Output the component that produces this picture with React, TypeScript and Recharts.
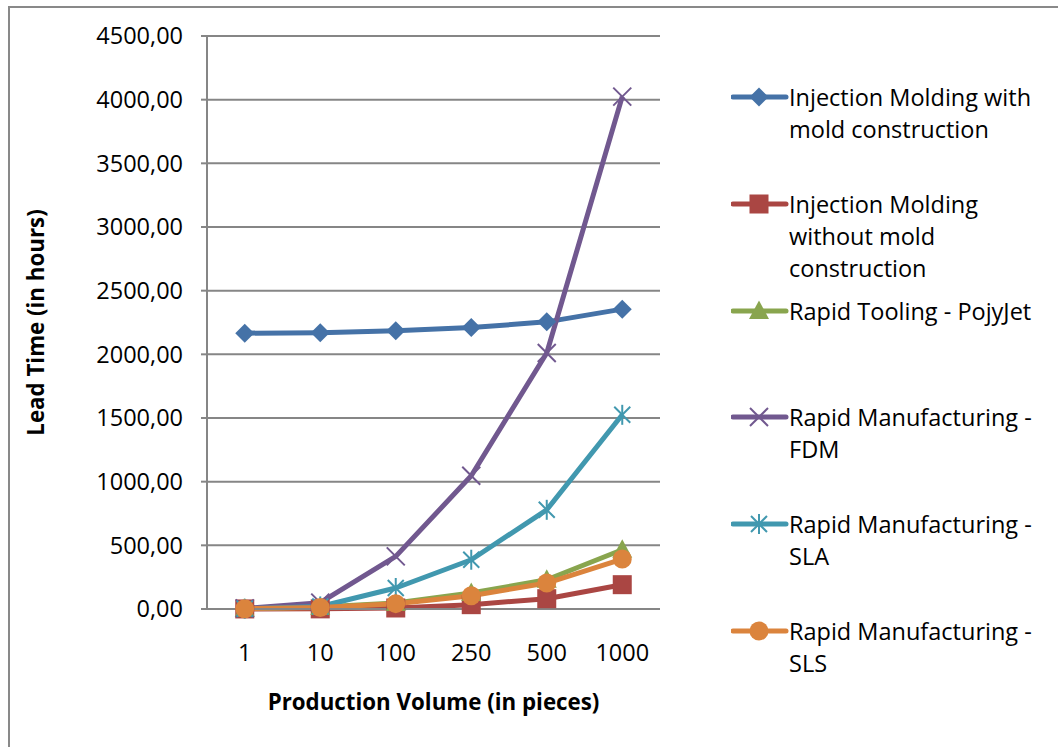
import { LineChart, Line, XAxis, YAxis, CartesianGrid } from "recharts";

// production volumes (pieces)
const categories = ["1", "10", "100", "250", "500", "1000"];

// lead time in hours per process
const withMold = [2166, 2170, 2185, 2210, 2255, 2355];
const withoutMold = [0.5, 1, 8, 34, 81, 191];
const polyJet = [2, 15, 47, 125, 230, 465];
const fdm = [5, 50, 413, 1046, 2010, 4024];
const sla = [2, 20, 165, 387, 779, 1525];
const sls = [2, 12, 42, 104, 204, 392];

const yTicks = [0, 500, 1000, 1500, 2000, 2500, 3000, 3500, 4000, 4500];

const SERIES = [
  { key: "withMold", name: "Injection Molding with mold construction", color: "#4572A7", shape: "diamond", values: withMold },
  { key: "withoutMold", name: "Injection Molding without mold construction", color: "#AA4643", shape: "square", values: withoutMold },
  { key: "polyJet", name: "Rapid Tooling - PojyJet", color: "#89A54E", shape: "triangle", values: polyJet },
  { key: "fdm", name: "Rapid Manufacturing - FDM", color: "#71588F", shape: "x", values: fdm },
  { key: "sla", name: "Rapid Manufacturing - SLA", color: "#4198AF", shape: "star", values: sla },
  { key: "sls", name: "Rapid Manufacturing - SLS", color: "#DB843D", shape: "circle", values: sls },
];

const data = categories.map((cat, i) => {
  const row: Record<string, string | number> = { cat };
  SERIES.forEach((s) => { row[s.key] = s.values[i]; });
  return row;
});

const FONT = '"Open Sans", sans-serif';
const GRID = "#868686";
const TEXT_SIZE = 23.5;
const TITLE_SIZE = 22.3;

const fmt = (v: number) => v.toFixed(2).replace(".", ",");

function Marker({ shape, x, y, color }: { shape: string; x: number; y: number; color: string }) {
  switch (shape) {
    case "diamond":
      return <polygon points={`${x},${y - 9.5} ${x + 9.5},${y} ${x},${y + 9.5} ${x - 9.5},${y}`} fill={color} />;
    case "square":
      return <rect x={x - 9.5} y={y - 9.5} width={19} height={19} fill={color} />;
    case "triangle":
      return <polygon points={`${x},${y - 10.5} ${x + 10},${y + 8} ${x - 10},${y + 8}`} fill={color} />;
    case "x":
      return (
        <g stroke={color} strokeWidth={2}>
          <line x1={x - 9} y1={y - 9} x2={x + 9} y2={y + 9} />
          <line x1={x - 9} y1={y + 9} x2={x + 9} y2={y - 9} />
        </g>
      );
    case "star":
      return (
        <g stroke={color} strokeWidth={2}>
          <line x1={x - 8} y1={y - 8} x2={x + 8} y2={y + 8} />
          <line x1={x - 8} y1={y + 8} x2={x + 8} y2={y - 8} />
          <line x1={x} y1={y - 10} x2={x} y2={y + 10} />
        </g>
      );
    default:
      return <circle cx={x} cy={y} r={9.5} fill={color} />;
  }
}

function LegendBlock() {
  return (
    <div style={{ position: "absolute", left: 731, top: 81, width: 320, fontFamily: FONT, fontSize: TEXT_SIZE, color: "#000" }}>
      {SERIES.map((s) => (
        <div key={s.key} style={{ display: "flex", height: 106.8 }}>
          <svg width={58} height={32} style={{ flex: "none" }}>
            <line x1={2} y1={16} x2={55} y2={16} stroke={s.color} strokeWidth={5} strokeLinecap="round" />
            <Marker shape={s.shape} x={28} y={16} color={s.color} />
          </svg>
          <div style={{ lineHeight: "32px", width: 252 }}>{s.name}</div>
        </div>
      ))}
    </div>
  );
}

export default function App() {
  return (
    <div style={{ position: "absolute", left: 0, top: 0, width: 1058, height: 747, background: "#fff", overflow: "hidden" }}>
      <div style={{ position: "absolute", left: 8, top: 6, width: 1060, height: 760, borderTop: "2px solid #898989", borderLeft: "2px solid #898989" }} />
      <LineChart width={1058} height={747} data={data} margin={{ top: 36, right: 398, bottom: 108, left: 7 }}>
        <CartesianGrid vertical={false} stroke={GRID} strokeWidth={2} />
        <XAxis
          dataKey="cat"
          padding={{ left: 37.75, right: 37.75 }}
          tickLine={false}
          tickSize={0}
          tickMargin={35}
          axisLine={{ stroke: GRID, strokeWidth: 2 }}
          tick={{ fontFamily: FONT, fontSize: TEXT_SIZE, fill: "#000" }}
          label={{ value: "Production Volume (in pieces)", position: "bottom", offset: 55, style: { fontFamily: FONT, fontSize: TITLE_SIZE, fontWeight: 700, fill: "#000" } }}
        />
        <YAxis
          width={200}
          domain={[0, 4500]}
          ticks={yTicks}
          interval={0}
          tickFormatter={fmt}
          tickSize={6}
          tickMargin={18}
          axisLine={{ stroke: GRID, strokeWidth: 2 }}
          tickLine={{ stroke: GRID, strokeWidth: 2 }}
          tick={{ fontFamily: FONT, fontSize: TEXT_SIZE, fill: "#000" }}
          label={{ value: "Lead Time (in hours)", angle: -90, position: "insideLeft", offset: 29, style: { textAnchor: "middle", fontFamily: FONT, fontSize: TITLE_SIZE, fontWeight: 700, fill: "#000" } }}
        />
        {SERIES.map((s) => (
          <Line
            key={s.key}
            dataKey={s.key}
            name={s.name}
            type="linear"
            stroke={s.color}
            strokeWidth={5}
            strokeLinejoin="round"
            isAnimationActive={false}
            dot={(p: any) => <Marker key={`${s.key}-${p.index}`} shape={s.shape} x={p.cx} y={p.cy} color={s.color} />}
            activeDot={false}
          />
        ))}
      </LineChart>
      <LegendBlock />
    </div>
  );
}
